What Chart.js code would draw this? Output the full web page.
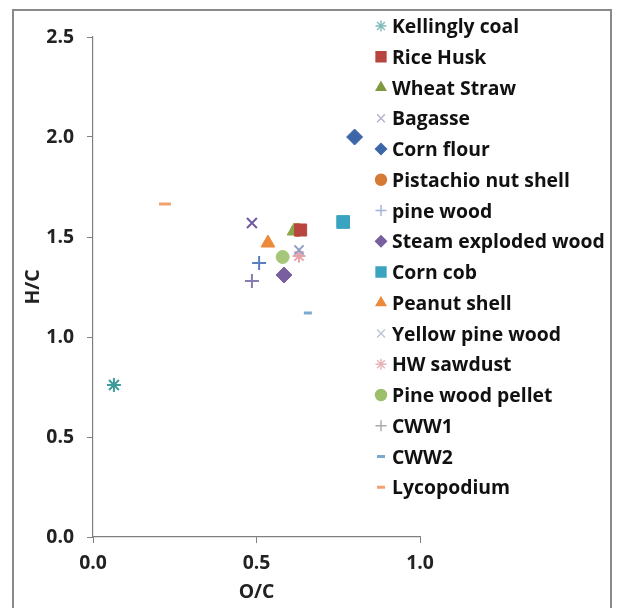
<!DOCTYPE html>
<html><head><meta charset="utf-8">
<script src="https://cdn.jsdelivr.net/npm/chart.js@4"></script>
<style>
html,body{margin:0;padding:0;background:#fff;overflow:hidden}
#wrap{position:relative;width:618px;height:608px}
#frame{position:absolute;left:12px;top:9px;width:600px;height:620px;border:2px solid #8a8a8a;box-sizing:border-box}
canvas{position:absolute;left:0;top:0}
</style></head><body>
<div id="wrap"><div id="frame"></div><canvas id="c" width="618" height="608"></canvas></div>
<script>
const seriesNames = ["Kellingly coal","Rice Husk","Wheat Straw","Bagasse","Corn flour","Pistachio nut shell","pine wood","Steam exploded wood","Corn cob","Peanut shell","Yellow pine wood","HW sawdust","Pine wood pellet","CWW1","CWW2","Lycopodium"];
const ocValues = [0.064,0.635,0.615,0.486,0.80,0.625,0.508,0.584,0.765,0.535,0.63,0.63,0.58,0.486,0.657,0.22];
const hcValues = [0.76,1.535,1.53,1.57,2.0,1.535,1.37,1.31,1.575,1.47,1.435,1.405,1.40,1.28,1.12,1.665];
const xTicks = [0.0,0.5,1.0];
const yTicks = [0.0,0.5,1.0,1.5,2.0,2.5];
const markerStyles = ["star","rect","triangle","crossRot","rectRot","circle","cross","rectRot","rect","triangle","crossRot","star","circle","cross","line","line"];
const markerColors = ["#3f9c9c","#b8453f","#8aa64a","#6f5a9e","#3d66a8","#d77a36","#5a7fbf","#7a5fa0","#3aa3bf","#ec8a3c","#8f9cc4","#e6a3a8","#a6c77a","#8a7cb0","#7aaad0","#f2a070"];
const markerSizes = [7,8.5,8,7,8,6.5,7,8,9,8,6.5,6.5,6.5,7,4,6];
const legendColors = ["#7fbcbc","#b8453f","#7f9a3e","#b8b0d0","#3d66a8","#d77a36","#9fb4d6","#7a5fa0","#3aa3bf","#ec8a3c","#c0c4d4","#e6b3b8","#9bbf6a","#a8a8a8","#7aaad0","#f2a070"];

const FAMILY = '"Open Sans", Lato, sans-serif';
// size the font so the longest legend label spans roughly the same width as in the reference
const mctx = document.createElement('canvas').getContext('2d');
mctx.font = 'bold 20px ' + FAMILY;
const w20 = mctx.measureText('Steam exploded wood').width;
const FS = Math.max(14, Math.min(24, 20 * 213 / w20));

const datasets = seriesNames.map((n,i)=>({
  label:n,
  data:[{x:ocValues[i],y:hcValues[i]}],
  pointStyle:markerStyles[i],
  pointRadius:markerSizes[i],
  pointHoverRadius:markerSizes[i],
  backgroundColor:markerColors[i],
  borderColor:markerColors[i],
  pointBorderWidth:(markerStyles[i]==='line')?3:(['star','cross','crossRot'].includes(markerStyles[i])?2:1),
  showLine:false
}));

const legendPlugin = {
  id:'customLegend',
  afterDraw(chart){
    const ctx = chart.ctx;
    ctx.save();
    const x0 = 381, y0 = 26, step = 30.75;
    chart.data.datasets.forEach((d,i)=>{
      const y = y0 + i*step;
      const st = markerStyles[i];
      let r = 5.5;
      if (st==='rect') r = 7;
      if (st==='line') r = 4;
      ctx.fillStyle = legendColors[i];
      ctx.strokeStyle = legendColors[i];
      ctx.lineWidth = (st==='line')?3:1.4;
      Chart.helpers.drawPoint(ctx,{pointStyle:st,radius:r,borderWidth:ctx.lineWidth,rotation:0},x0,y);
      ctx.fillStyle = '#111';
      ctx.font = 'bold ' + FS + 'px ' + FAMILY;
      ctx.textBaseline = 'middle';
      ctx.textAlign = 'left';
      ctx.fillText(d.label, 392, y+1.5);
    });
    ctx.restore();
  }
};

const tickFont = {family:FAMILY,size:FS,weight:'bold'};
new Chart(document.getElementById('c'),{
  type:'scatter',
  data:{datasets},
  options:{
    responsive:false,
    animation:false,
    events:[],
    layout:{padding:{left:0,right:198,top:37,bottom:4}},
    plugins:{legend:{display:false},tooltip:{enabled:false}},
    scales:{
      x:{
        type:'linear',min:0,max:1.0,
        afterBuildTicks(s){s.ticks = xTicks.map(v=>({value:v}));},
        afterFit(s){s.height = 67;},
        grid:{drawOnChartArea:false,drawTicks:true,tickLength:6,color:'#808080',lineWidth:1},
        border:{color:'#808080',width:1.2},
        ticks:{color:'#222',font:tickFont,padding:9,maxRotation:0,callback:v=>v.toFixed(1)},
        title:{display:true,text:'O/C',color:'#222',font:tickFont,padding:{top:0,bottom:0}}
      },
      y:{
        type:'linear',min:0,max:2.5,
        afterBuildTicks(s){s.ticks = yTicks.map(v=>({value:v}));},
        afterFit(s){s.width = 93;},
        grid:{drawOnChartArea:false,drawTicks:true,tickLength:6,color:'#808080',lineWidth:1},
        border:{color:'#808080',width:1.2},
        ticks:{color:'#222',font:tickFont,padding:13,callback:v=>v.toFixed(1)},
        title:{display:true,text:'H/C',color:'#222',font:tickFont,padding:{top:22,bottom:0}}
      }
    }
  },
  plugins:[legendPlugin]
});
</script>
</body></html>
